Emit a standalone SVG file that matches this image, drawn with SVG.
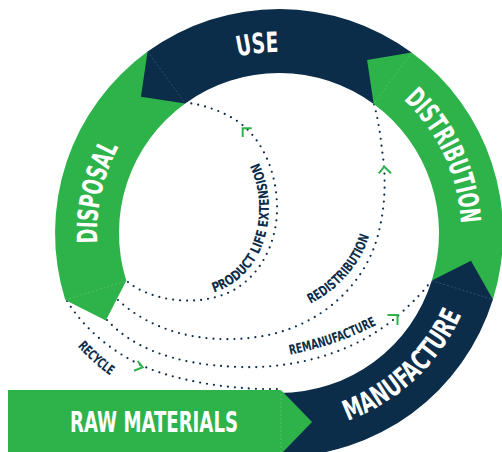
<svg xmlns="http://www.w3.org/2000/svg" width="502" height="452" viewBox="0 0 502 452">
<style>
.navy{fill:#0b2d4a}
.green{fill:#2db34a}
.seam{fill:none;stroke:#ffffff;stroke-opacity:.25;stroke-width:.7;stroke-dasharray:2 2}
.big{font-family:"DejaVu Sans Condensed","Liberation Sans Narrow","Liberation Sans",sans-serif;font-weight:bold;font-size:28px;fill:#ffffff}
.small{font-family:"DejaVu Sans Condensed","Liberation Sans Narrow","Liberation Sans",sans-serif;font-weight:bold;font-size:13.5px;fill:#0b2d4a}
.dots{fill:none;stroke:#0b2d4a;stroke-width:2.2;stroke-linecap:round;stroke-dasharray:0 7}
.arr{fill:none;stroke:#2db34a;stroke-width:2;stroke-linecap:butt;stroke-linejoin:miter}
</style>
<defs>
<path id="pUse" d="M198,71.1 A181 181 0 0 1 320.9,56.9"/>
<path id="pDist" d="M396.3,93.2 A182 182 0 0 1 461,233"/>
<path id="pDisp" d="M98.6,256.8 A182 182 0 0 1 125.5,135.2"/>
<path id="pManu" d="M340.8,423.2 A200 200 0 0 0 464.4,307.9"/>
<path id="pPle" d="M212,293 C241,285 264,258 268,222 C271,196 266,175 256,157"/>
<path id="pRedis" d="M306,306 C330,295 352,275 364,250 C368,240 371,232 373,222"/>
<path id="pReman" d="M288,355 C320,349 350,339 380,323"/>
<path id="pRecy" d="M76,345 C88,358 100,369 114,378"/>
</defs>

<g id="connectors">
<path class="dots" d="M128,282 C150,300 195,308 230,292 C262,276 278,240 277,205 C276,170 262,140 240,123 C225,112 205,105 188,103"/>
<path class="dots" d="M118,300 C150,330 200,345 257,337 C320,328 365,285 378,235 C386,205 386,175 382,150 C380,130 377,115 374,104"/>
<path class="dots" d="M107,320 C130,345 170,365 240,367 C300,369 360,350 400,314 C415,300 425,290 431,281"/>
<path class="dots" d="M67,301 C85,330 115,355 150,369 C190,384 240,390 281,389"/>
<polyline class="arr" points="251.7,128.3 242.7,128.3 242.7,137"/>
<polyline class="arr" points="378.7,173.3 384.3,166.7 391,173.3"/>
<polyline class="arr" points="387.5,315 397.5,315 397.5,325"/>
<polyline class="arr" points="137.7,361 142.7,367.3 134,370.7"/>
</g>

<g id="disposal">
<path class="green" d="M147.6,51.6 A224 224 0 0 0 65.3,300 L105.8,320.5 L126.3,280.8 A160 160 0 0 1 185.2,103.4 Z"/>
<line class="seam" x1="65.3" y1="300" x2="126.3" y2="280.8"/>
<text class="big"><textPath href="#pDisp" startOffset="50%" text-anchor="middle" textLength="100" lengthAdjust="spacingAndGlyphs">DISPOSAL</textPath></text>
</g>

<g id="use">
<path class="navy" d="M411.6,52.5 A224 224 0 0 0 147.6,51.6 L140.9,96.8 L185.2,103.4 A160 160 0 0 1 373.7,104.1 Z"/>
<line class="seam" x1="147.6" y1="51.6" x2="185.2" y2="103.4"/>
<text class="big"><textPath href="#pUse" startOffset="50%" text-anchor="middle" textLength="41" lengthAdjust="spacingAndGlyphs">USE</textPath></text>
</g>

<g id="distribution">
<path class="green" d="M492.9,299.6 A224 224 0 0 0 411.6,52.5 L367.1,60.1 L373.7,104.1 A160 160 0 0 1 431.8,280.6 Z"/>
<line class="seam" x1="411.6" y1="52.5" x2="373.7" y2="104.1"/>
<text class="big"><textPath href="#pDist" startOffset="50%" text-anchor="middle" textLength="140" lengthAdjust="spacingAndGlyphs">DISTRIBUTION</textPath></text>
</g>

<g id="manufacture">
<path class="navy" d="M279,393 L279,457 A224 224 0 0 0 492.9,299.6 L471,260.7 L431.8,280.6 A160 160 0 0 1 279,393 Z"/>
<line class="seam" x1="431.8" y1="280.6" x2="492.9" y2="299.6"/>
<text class="big"><textPath href="#pManu" startOffset="50%" text-anchor="middle" textLength="160" lengthAdjust="spacingAndGlyphs">MANUFACTURE</textPath></text>
</g>

<g id="raw-materials">
<path class="green" d="M8,390 L281,390 L312,422 L281,454 L8,454 Z"/>
<line class="seam" x1="281" y1="390" x2="281" y2="454"/>
<text class="big" x="70" y="432" textLength="168" lengthAdjust="spacingAndGlyphs">RAW MATERIALS</text>
</g>

<g id="labels">
<text class="small"><textPath href="#pPle" startOffset="2" textLength="155" lengthAdjust="spacingAndGlyphs">PRODUCT  LIFE  EXTENSION</textPath></text>
<text class="small"><textPath href="#pRedis" startOffset="5" textLength="92" lengthAdjust="spacingAndGlyphs">REDISTRIBUTION</textPath></text>
<text class="small"><textPath href="#pReman" startOffset="2" textLength="92" lengthAdjust="spacingAndGlyphs">REMANUFACTURE</textPath></text>
<text class="small"><textPath href="#pRecy" startOffset="2" textLength="44" lengthAdjust="spacingAndGlyphs">RECYCLE</textPath></text>
</g>
</svg>
